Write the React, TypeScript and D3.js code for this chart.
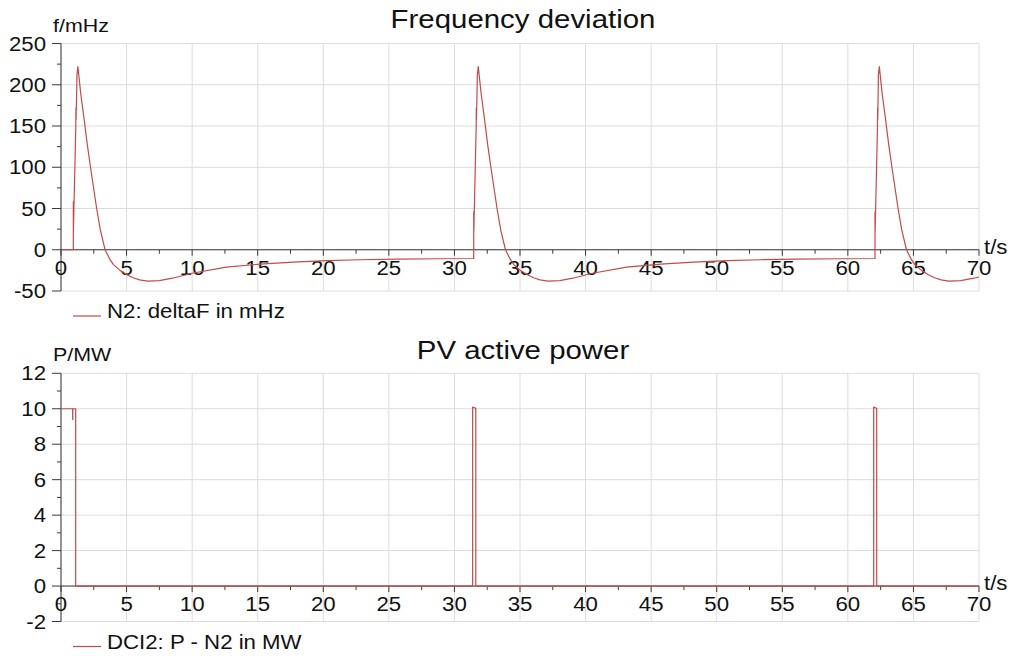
import React from "react";
import * as d3 from "d3";

// ---------- data ----------
const freqTimes = [
  0, 0.94, 0.94, 0.945, 1.13, 1.14, 1.15, 1.22, 1.29, 1.5, 1.75, 2.0, 2.25, 2.72, 3.0, 3.36, 3.74, 4.0, 4.5, 5.0, 5.5, 6.0, 6.6, 7.5, 8.5, 10.0, 12.6, 15.2, 17.7, 20.3, 22.8, 25.5, 28.9,
  31.47, 31.47, 31.48, 31.66, 31.67, 31.68, 31.75, 31.82, 32.03, 32.28, 32.53, 32.78, 33.25, 33.53, 33.89, 34.27, 34.53, 35.03, 35.53, 36.03, 36.53, 37.13, 38.03, 39.03, 40.53, 43.13, 45.73, 48.23, 50.83, 53.33, 56.03, 59.43,
  62.07, 62.07, 62.08, 62.26, 62.27, 62.28, 62.33, 62.4, 62.61, 62.86, 63.11, 63.36, 63.83, 64.11, 64.47, 64.85, 65.11, 65.61, 66.11, 66.61, 67.11, 67.71, 68.61, 69.61, 70.0,
];
const freqValues = [
  0, 0, 58, 22, 150, 172, 158, 212, 222, 190, 160, 128, 100, 50, 24, 0, -12, -18, -25, -30, -34, -36.5, -38, -37.5, -34.5, -28.5, -21, -17.4, -15, -13.3, -12.1, -11.3, -10.9,
  -10.6, 46, 22, 150, 172, 158, 212, 222, 190, 160, 128, 100, 50, 24, 0, -12, -18, -25, -30, -34, -36.5, -38, -37.5, -34.5, -28.5, -21, -17.4, -15, -13.3, -12.1, -11.3, -10.9,
  -10.6, 46, 22, 150, 172, 158, 212, 222, 190, 160, 128, 100, 50, 24, 0, -12, -18, -25, -30, -34, -36.5, -38, -37.5, -34.5, -33,
];

const powerTimes = [0, 0.89, 0.89, 0.9, 0.9, 1.12, 1.12, 31.39, 31.39, 31.63, 31.63, 61.97, 61.97, 62.2, 62.2, 70];
const powerValues = [10, 10, 9.4, 9.4, 10, 10, 0, 0, 10.1, 10.02, 0, 0, 10.1, 10.02, 0, 0];

const xTicks = [0, 5, 10, 15, 20, 25, 30, 35, 40, 45, 50, 55, 60, 65, 70];
const freqTicks = [-50, 0, 50, 100, 150, 200, 250];
const powerTicks = [-2, 0, 2, 4, 6, 8, 10, 12];

const titles = ["Frequency deviation", "PV active power"];
const yUnits = ["f/mHz", "P/MW"];
const legends = ["N2: deltaF in mHz", "DCI2: P - N2 in MW"];
const xUnit = "t/s";

// ---------- styling ----------
const FONT = "'Liberation Sans', Arial, sans-serif";
const LINE = "#c44a4a";
const GRID = "#dcdcdc";
const AXIS = "#3a3a3a";
const SX = 1.14;

const x = d3.scaleLinear().domain([0, 70]).range([61, 979]);

type PanelProps = {
  y: d3.ScaleLinear<number, number>;
  ticks: number[];
  times: number[];
  values: number[];
  title: string;
  unit: string;
  legend: string;
  titleY: number;
};

function T(props: { x: number; y: number; size: number; anchor?: string; children: React.ReactNode; sx?: number }) {
  const { x: tx, y: ty, size, anchor = "start", children, sx = SX } = props;
  return (
    <text
      transform={`translate(${tx},${ty}) scale(${sx},1)`}
      fontSize={size}
      fontFamily={FONT}
      textAnchor={anchor}
      fill="#111"
    >
      {children}
    </text>
  );
}

function Panel({ y, ticks, times, values, title, unit, legend, titleY }: PanelProps) {
  const [y0, y1] = y.domain();
  const top = y(y1);
  const bottom = y(y0);
  const zeroY = y(0);
  const step = ticks[1] - ticks[0];
  const minor = ticks.slice(0, -1).map((t) => t + step / 2);
  const xMinor = xTicks.slice(0, -1).map((t) => t + 2.5);
  const pts: [number, number][] = times.map((t, i) => [t, values[i]]);
  const path = d3
    .line<[number, number]>()
    .x((d) => x(d[0]))
    .y((d) => y(d[1]))(pts);
  const left = x(0);
  const right = x(70);
  return (
    <g>
      {/* grid */}
      {xTicks.map((t) => (
        <line key={"gx" + t} x1={x(t)} x2={x(t)} y1={top} y2={bottom} stroke={GRID} strokeWidth={1} />
      ))}
      {ticks.map((t) => (
        <line key={"gy" + t} x1={left} x2={right} y1={y(t)} y2={y(t)} stroke={GRID} strokeWidth={1} />
      ))}
      {/* axes */}
      <line x1={left} x2={left} y1={top} y2={bottom} stroke={AXIS} strokeWidth={1} />
      <line x1={left} x2={right} y1={zeroY} y2={zeroY} stroke={AXIS} strokeWidth={1} />
      {ticks.map((t) => (
        <line key={"ty" + t} x1={left - 9} x2={left} y1={y(t)} y2={y(t)} stroke={AXIS} strokeWidth={1} />
      ))}
      {minor.map((t) => (
        <line key={"my" + t} x1={left - 4} x2={left} y1={y(t)} y2={y(t)} stroke={AXIS} strokeWidth={1} />
      ))}
      {xTicks.map((t) => (
        <line key={"tx" + t} x1={x(t)} x2={x(t)} y1={zeroY} y2={zeroY + 6} stroke={AXIS} strokeWidth={1} />
      ))}
      {xMinor.map((t) => (
        <line key={"mx" + t} x1={x(t)} x2={x(t)} y1={zeroY} y2={zeroY + 4} stroke={AXIS} strokeWidth={1} />
      ))}
      {/* labels */}
      {ticks.map((t) => (
        <T key={"ly" + t} x={46} y={y(t) + 7} size={19.5} anchor="end">
          {String(t)}
        </T>
      ))}
      {xTicks.map((t) => (
        <T key={"lx" + t} x={x(t)} y={zeroY + 25} size={19.5} anchor="middle">
          {String(t)}
        </T>
      ))}
      <T x={984} y={zeroY + 4} size={19.5}>
        {xUnit}
      </T>
      <T x={53} y={top - 12} size={18.8}>
        {unit}
      </T>
      <T x={523} y={titleY} size={25.8} anchor="middle">
        {title}
      </T>
      {/* series */}
      <path d={path ?? ""} fill="none" stroke={LINE} strokeWidth={1.2} strokeLinejoin="round" />
      {/* legend */}
      <line x1={73} x2={101} y1={bottom + 25} y2={bottom + 25} stroke={LINE} strokeWidth={1.2} />
      <T x={107} y={bottom + 27} size={19.5}>
        {legend}
      </T>
    </g>
  );
}

export default function App() {
  const yTop = d3.scaleLinear().domain([-50, 250]).range([291, 43.5]);
  const yBot = d3.scaleLinear().domain([-2, 12]).range([621.5, 373.3]);
  return (
    <svg
      width={1014}
      height={658}
      style={{ position: "absolute", left: 0, top: 0, background: "#fff" }}
    >
      <rect x={0} y={0} width={1014} height={658} fill="#fff" />
      <Panel y={yTop} ticks={freqTicks} times={freqTimes} values={freqValues} title={titles[0]} unit={yUnits[0]} legend={legends[0]} titleY={28.3} />
      <Panel y={yBot} ticks={powerTicks} times={powerTimes} values={powerValues} title={titles[1]} unit={yUnits[1]} legend={legends[1]} titleY={359} />
    </svg>
  );
}
